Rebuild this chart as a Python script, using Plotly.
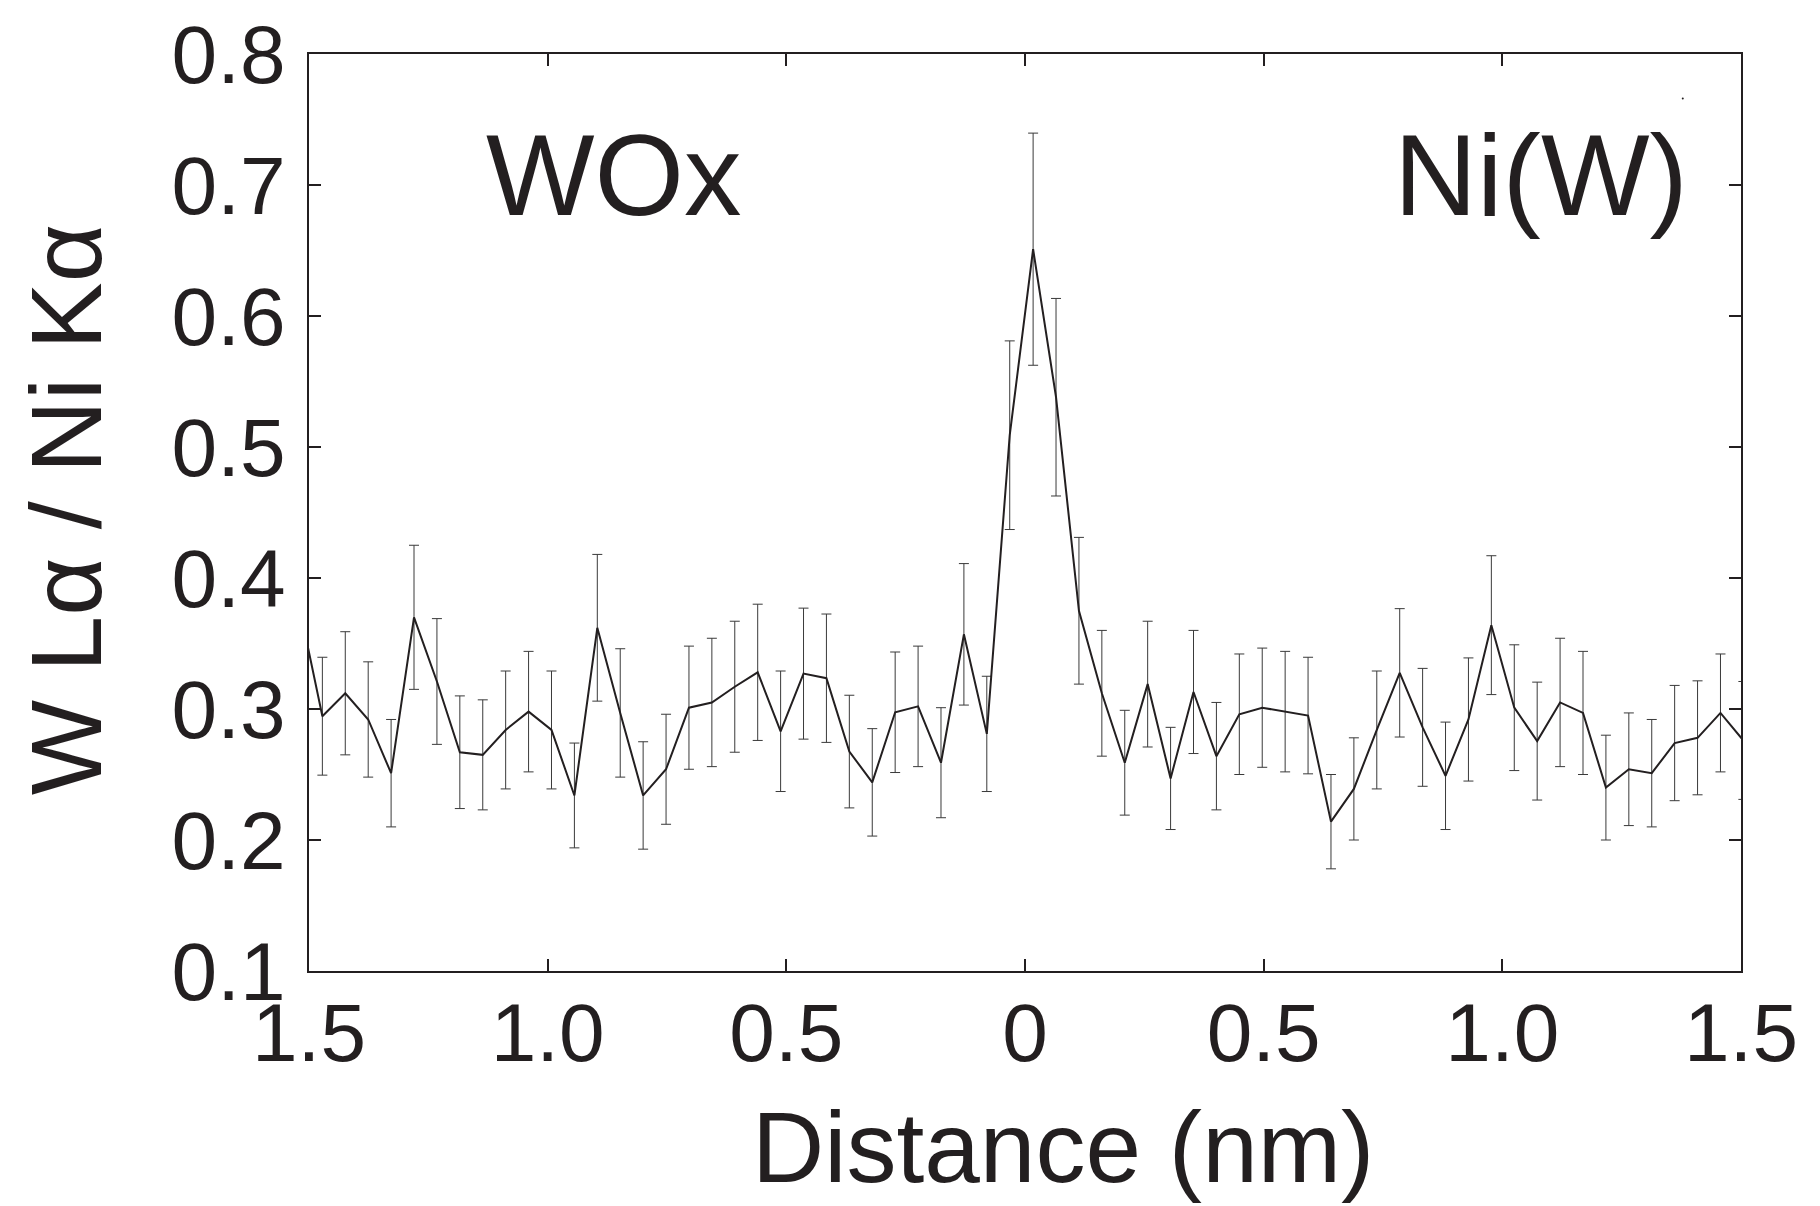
import plotly.graph_objects as go

# Distance along the line profile (nm); WOx side shown negative, Ni(W) side positive
distance = [-1.520, -1.472, -1.424, -1.376, -1.328, -1.280, -1.232, -1.184, -1.136, -1.088,
            -1.040, -0.992, -0.944, -0.896, -0.848, -0.800, -0.752, -0.704, -0.656, -0.608,
            -0.560, -0.512, -0.464, -0.416, -0.368, -0.320, -0.272, -0.224, -0.176, -0.128,
            -0.080, -0.032, 0.017, 0.065, 0.113, 0.161, 0.209, 0.257, 0.305, 0.353,
            0.401, 0.449, 0.497, 0.545, 0.593, 0.641, 0.689, 0.737, 0.785, 0.833,
            0.881, 0.929, 0.977, 1.025, 1.073, 1.121, 1.169, 1.217, 1.265, 1.313,
            1.361, 1.409, 1.457, 1.505]

ratio = [0.378, 0.2945, 0.312, 0.292, 0.251, 0.370, 0.321, 0.267, 0.265, 0.284,
         0.298, 0.284, 0.234, 0.362, 0.297, 0.234, 0.254, 0.301, 0.305, 0.317,
         0.328, 0.283, 0.327, 0.3235, 0.2675, 0.244, 0.2975, 0.302, 0.259, 0.357,
         0.281, 0.509, 0.651, 0.538, 0.375, 0.312, 0.259, 0.319, 0.247, 0.313,
         0.264, 0.296, 0.301, 0.298, 0.295, 0.214, 0.239, 0.284, 0.3276, 0.286,
         0.249, 0.292, 0.364, 0.301, 0.2755, 0.305, 0.297, 0.240, 0.254, 0.251,
         0.274, 0.278, 0.297, 0.276]

ratio_err = [0.045, 0.045, 0.047, 0.044, 0.041, 0.055, 0.048, 0.043, 0.042, 0.045,
             0.046, 0.045, 0.040, 0.056, 0.049, 0.041, 0.042, 0.047, 0.049, 0.050,
             0.052, 0.046, 0.050, 0.049, 0.043, 0.041, 0.046, 0.046, 0.042, 0.054,
             0.044, 0.072, 0.0886, 0.0754, 0.056, 0.048, 0.040, 0.048, 0.039, 0.047,
             0.041, 0.046, 0.0455, 0.046, 0.0445, 0.036, 0.039, 0.045, 0.049, 0.045,
             0.041, 0.047, 0.053, 0.048, 0.045, 0.049, 0.047, 0.040, 0.043, 0.041,
             0.044, 0.0435, 0.045, 0.045]

x_tickvals = [-1.5, -1.0, -0.5, 0, 0.5, 1.0, 1.5]
x_ticktext = ["1.5", "1.0", "0.5", "0", "0.5", "1.0", "1.5"]
y_tickvals = [0.1, 0.2, 0.3, 0.4, 0.5, 0.6, 0.7, 0.8]
y_ticktext = ["0.1", "0.2", "0.3", "0.4", "0.5", "0.6", "0.7", "0.8"]

INK = "#231f20"
FONT = "Liberation Sans, Arial, Helvetica, sans-serif"

fig = go.Figure()
fig.add_trace(go.Scatter(
    x=distance, y=ratio, mode="lines",
    line=dict(color=INK, width=2),
    error_y=dict(type="data", array=ratio_err, visible=True,
                 color="#3a3a3a", thickness=1, width=5),
    cliponaxis=True, showlegend=False, hoverinfo="x+y",
))
# small stray dot visible in the original figure
fig.add_trace(go.Scatter(x=[1.378], y=[0.766], mode="markers",
                         marker=dict(color=INK, size=2), showlegend=False))

axis_common = dict(
    showline=True, linecolor=INK, linewidth=2, mirror="ticks",
    ticks="inside", ticklen=12, tickwidth=1.5, tickcolor=INK,
    showgrid=False, zeroline=False, automargin=False,
    tickfont=dict(family=FONT, size=82, color=INK),
)

fig.update_layout(
    width=1812, height=1198,
    margin=dict(l=301, r=79, t=46, b=235),
    paper_bgcolor="white", plot_bgcolor="white",
    font=dict(family=FONT, color=INK),
    xaxis=dict(range=[-1.5, 1.5], tickvals=x_tickvals, ticktext=x_ticktext,
               ticklabelstandoff=-10, **axis_common),
    yaxis=dict(range=[0.1, 0.8], tickvals=y_tickvals, ticktext=y_ticktext,
               ticklabelstandoff=5, **axis_common),
    annotations=[
        dict(text="Distance (nm)", xref="paper", yref="paper", x=0.5265, y=-0.192,
             xanchor="center", yanchor="middle", showarrow=False,
             font=dict(family=FONT, size=100, color=INK)),
        dict(text="W Lα / Ni Kα", xref="paper", yref="paper", x=-0.17, y=0.503,
             xanchor="center", yanchor="middle", textangle=-90, showarrow=False,
             font=dict(family=FONT, size=101, color=INK)),
        dict(text="WOx", xref="x", yref="y", x=-1.134, y=0.708,
             xanchor="left", yanchor="middle", showarrow=False,
             font=dict(family=FONT, size=115, color=INK)),
        dict(text="Ni(W)", xref="x", yref="y", x=1.393, y=0.708,
             xanchor="right", yanchor="middle", showarrow=False,
             font=dict(family=FONT, size=115, color=INK)),
    ],
)

fig.write_html("out.html")
